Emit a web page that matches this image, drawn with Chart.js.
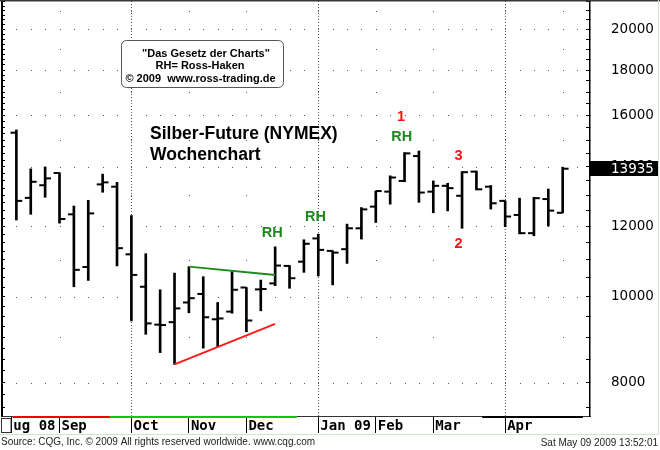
<!DOCTYPE html>
<html>
<head>
<meta charset="utf-8">
<title>Silber-Future (NYMEX) Wochenchart</title>
<script src="https://cdn.jsdelivr.net/npm/chart.js@4.4.1/dist/chart.umd.min.js"></script>
<style>
  html, body { margin: 0; padding: 0; background: #fff; }
  #chart { display: block; }
</style>
</head>
<body>
<canvas id="chart" width="660" height="450"></canvas>
<script>
// weekly OHLC bars, one per week (Monday of the week)
const weeks = [
  '2008-08-11', '2008-08-18', '2008-08-25', '2008-09-01', '2008-09-08', '2008-09-15', '2008-09-22', '2008-09-29',
  '2008-10-06', '2008-10-13', '2008-10-20', '2008-10-27', '2008-11-03', '2008-11-10', '2008-11-17', '2008-11-24',
  '2008-12-01', '2008-12-08', '2008-12-15', '2008-12-22', '2008-12-29', '2009-01-05', '2009-01-12', '2009-01-19',
  '2009-01-26', '2009-02-02', '2009-02-09', '2009-02-16', '2009-02-23', '2009-03-02', '2009-03-09', '2009-03-16',
  '2009-03-23', '2009-03-30', '2009-04-06', '2009-04-13', '2009-04-20', '2009-04-27', '2009-05-04'
];
const opens = [
  15300, 12920, 13350, 13780, 12380, 10800, 13380, 13300, 11160, 10260, 9300, 9360, 9850,
  10070, 9430, 9620, 10240, 10190, 10350, 10830, 10950, 11630, 11260, 11310, 11940, 12630,
  13130, 13500, 14400, 13130, 13330, 12990, 13830, 13300, 12820, 12360, 11790, 12880, 12430
];
const highs = [
  15410, 13930, 14000, 13790, 12650, 12840, 13740, 13450, 12340, 11180, 10180, 10630, 10810,
  10530, 9850, 10670, 10240, 10440, 11380, 10840, 11590, 11760, 11260, 12070, 12600, 13150,
  13680, 14530, 14590, 13500, 13420, 13830, 13850, 13340, 12820, 12910, 12940, 13220, 13990
];
const lows = [
  12200, 12380, 12940, 12100, 10260, 10430, 13110, 10830, 9390, 9070, 8650, 8390, 9590,
  8750, 8780, 9580, 9130, 9640, 10290, 10220, 10650, 10550, 10310, 10900, 11610, 12120,
  12710, 13470, 12770, 12430, 12490, 11940, 13190, 12550, 11990, 11770, 11710, 12010, 12430
];
const closes = [
  12820, 13470, 13590, 12230, 10720, 12410, 13450, 11340, 10580, 9330, 9290, 9700, 9960,
  9480, 9450, 10180, 9400, 10200, 10840, 10490, 11470, 11290, 11210, 11940, 12540, 13150,
  13620, 14500, 13100, 13330, 13250, 13810, 13210, 12740, 12310, 11790, 12910, 12500, 13935
];

// drawn trend lines: [bar index, price]
const resistanceLine = [[12, 10810], [18, 10580]];
const supportLine = [[11, 8390], [18, 9320]];

// chart notes
const noteText = ['RH', 'RH', 'RH', '1', '3', '2'];
const noteX = [17.8, 20.8, 26.8, 26.75, 30.75, 30.75];
const noteY = [11800, 12300, 15140, 15920, 14410, 11460];
const noteColor = ['#1e8a1e', '#1e8a1e', '#1e8a1e', '#ff1010', '#ff1010', '#ff1010'];

// trend strip under the price pane
const bandFrom = [-0.25, 6.5, 32.4];
const bandTo = [6.5, 19.5, 39.4];
const bandColor = ['#f00000', '#00cc00', '#000000'];

// axes
const yLabels = [8000, 10000, 12000, 14000, 16000, 18000, 20000];
const minorLevels = [9000, 11000, 13000, 15000, 17000, 19000, 21000];
const xTickLabels = ['ug 08', 'Sep', 'Oct', 'Nov', 'Dec', 'Jan 09', 'Feb', 'Mar', 'Apr'];
const yMin = 7338, yMax = 21528;

// first week of every new month
const monthStarts = [];
weeks.forEach((w, i) => {
  if (i > 0 && w.slice(5, 7) !== weeks[i - 1].slice(5, 7)) monthStarts.push(i);
});
const quarterStarts = monthStarts.filter(i => (+weeks[i].slice(5, 7) - 1) % 3 === 0);
const xTickPos = [-0.35].concat(monthStarts.slice(0, xTickLabels.length - 1));

const rightTicks = [];
for (let v = 7500; v <= 21500; v += 500) rightTicks.push(v);
const leftTicks = [];
for (let v = 7500; v <= 21500; v += 250) leftTicks.push(v);

const SANS = "'Liberation Sans', Arial, sans-serif";

const decor = {
  id: 'decor',
  beforeDraw(chart) {
    const ctx = chart.ctx;
    ctx.save();
    ctx.fillStyle = '#fff';
    ctx.fillRect(0, 0, chart.width, chart.height);
    ctx.restore();
  },
  beforeDatasetsDraw(chart) {
    const { ctx, chartArea: ca, scales: { x, y } } = chart;
    ctx.save();
    ctx.fillStyle = '#555';
    // dotted price grid: one dot per week on the labelled levels
    yLabels.forEach(v => {
      const py = Math.round(y.getPixelForValue(v));
      for (let i = Math.ceil(x.min); i <= x.max; i++) {
        const px = Math.round(x.getPixelForValue(i));
        if (px >= ca.left && px < ca.right) ctx.fillRect(px, py, 1, 1);
      }
    });
    // in-between levels only at month starts
    monthStarts.forEach(m => {
      const px = Math.round(x.getPixelForValue(m));
      minorLevels.forEach(v => {
        ctx.fillRect(px, Math.round(y.getPixelForValue(v)), 1, 1);
      });
    });
    ctx.restore();
  },
  afterDraw(chart) {
    const { ctx, chartArea: ca, scales: { x, y } } = chart;
    ctx.save();

    // trend strip
    bandFrom.forEach((f, i) => {
      const x1 = Math.max(x.getPixelForValue(f), 11);
      const x2 = Math.min(x.getPixelForValue(bandTo[i]), ca.right);
      ctx.fillStyle = bandColor[i];
      ctx.fillRect(x1, ca.bottom, x2 - x1, 2);
    });
    ctx.strokeStyle = '#333';
    ctx.lineWidth = 1;
    ctx.strokeRect(1.5, ca.bottom + 2.5, 9.5, 14);

    // info box
    ctx.beginPath();
    ctx.roundRect(121.5, 40.5, 162, 47, 5);
    ctx.fillStyle = '#fff';
    ctx.fill();
    ctx.strokeStyle = '#555';
    ctx.stroke();
    ctx.fillStyle = '#000';
    ctx.textAlign = 'center';
    ctx.textBaseline = 'alphabetic';
    ctx.font = "bold 11px 'Liberation Sans Narrow', " + SANS;
    ctx.fillText('"Das Gesetz der Charts"', 206, 56.5);
    ctx.fillText('RH= Ross-Haken', 200, 69);
    ctx.fillText('\u00a9 2009  www.ross-trading.de', 200.5, 81.5);

    // title
    ctx.textAlign = 'left';
    ctx.font = 'bold 17.5px ' + SANS;
    ctx.fillText('Silber-Future (NYMEX)', 150, 138.5);
    ctx.fillText('Wochenchart', 150, 160);

    // notes
    ctx.textAlign = 'center';
    ctx.textBaseline = 'middle';
    ctx.font = 'bold 14.5px ' + SANS;
    noteText.forEach((t, i) => {
      ctx.fillStyle = noteColor[i];
      ctx.fillText(t, x.getPixelForValue(noteX[i]), y.getPixelForValue(noteY[i]));
    });

    // last price box
    const last = closes[closes.length - 1];
    const py = y.getPixelForValue(last);
    ctx.fillStyle = '#000';
    ctx.fillRect(ca.right, Math.round(py) - 8, 68, 15);
    ctx.fillStyle = '#fff';
    ctx.textAlign = 'left';
    ctx.font = "13.5px 'DejaVu Sans', sans-serif";
    ctx.fillText(String(last), 611, py + 0.5);

    // frame and top edge
    ctx.fillStyle = '#3a3a3a';
    ctx.fillRect(0, 0, chart.width, 1.5);
    ctx.strokeStyle = '#cfe4cf';
    ctx.beginPath();
    ctx.moveTo(0, 434.5); ctx.lineTo(658.5, 434.5); ctx.lineTo(658.5, 0);
    ctx.stroke();

    // footer
    ctx.fillStyle = '#222';
    ctx.textBaseline = 'alphabetic';
    ctx.font = '10px ' + SANS;
    ctx.textAlign = 'left';
    ctx.fillText('Source: CQG, Inc. \u00a9 2009 All rights reserved worldwide. www.cqg.com', 1, 444.5);
    ctx.textAlign = 'right';
    ctx.fillText('Sat May 09 2009 13:52:01', 658, 446);
    ctx.restore();
  }
};

new Chart(document.getElementById('chart'), {
  type: 'bar',
  data: {
    datasets: [
      {
        type: 'line', label: 'Widerstand', data: resistanceLine.map(p => ({ x: p[0], y: p[1] })),
        borderColor: '#1e8a1e', borderWidth: 2, pointRadius: 0, fill: false, xAxisID: 'x', yAxisID: 'y'
      },
      {
        type: 'line', label: 'Unterstuetzung', data: supportLine.map(p => ({ x: p[0], y: p[1] })),
        borderColor: '#ff1a1a', borderWidth: 2, pointRadius: 0, fill: false, xAxisID: 'x', yAxisID: 'y'
      },
      {
        type: 'line', label: 'Open', data: opens.map((v, i) => ({ x: i - 0.2, y: v })),
        showLine: false, pointStyle: 'line', pointRadius: 3, pointBorderWidth: 2, pointBorderColor: '#000',
        xAxisID: 'x', yAxisID: 'y'
      },
      {
        type: 'line', label: 'Close', data: closes.map((v, i) => ({ x: i + 0.2, y: v })),
        showLine: false, pointStyle: 'line', pointRadius: 3, pointBorderWidth: 2, pointBorderColor: '#000',
        xAxisID: 'x', yAxisID: 'y'
      },
      {
        type: 'bar', label: 'High-Low', data: weeks.map((w, i) => ({ x: i, y: [lows[i], highs[i]] })),
        backgroundColor: '#000', borderWidth: 0, barThickness: 2, xAxisID: 'x', yAxisID: 'y'
      }
    ]
  },
  options: {
    responsive: false,
    animation: false,
    devicePixelRatio: 1,
    events: [],
    layout: { autoPadding: false, padding: { left: 0, right: 4, top: 1, bottom: 0 } },
    plugins: { legend: { display: false }, tooltip: { enabled: false } },
    scales: {
      x: {
        type: 'linear', min: -1, max: 39.9, bounds: 'data', offset: false,
        afterBuildTicks: s => { s.ticks = xTickPos.map(v => ({ value: v })); },
        afterFit: s => { s.height = 34; s.paddingLeft = 0; s.paddingRight = 0; },
        ticks: {
          autoSkip: false, maxRotation: 0, minRotation: 0, align: 'start', labelOffset: 2, padding: -15,
          callback: (v, i) => xTickLabels[i],
          font: { family: "'DejaVu Sans Mono', monospace", size: 14, weight: 'bold' }, color: '#000'
        },
        grid: {
          offset: false,
          color: c => (c.tick && quarterStarts.includes(c.tick.value) ? '#555' : 'rgba(0,0,0,0)'),
          tickLength: 17, tickColor: '#000', tickWidth: 1
        },
        border: { color: '#333', width: 1, dash: [1, 2] }
      },
      y: {
        type: 'logarithmic', position: 'right', min: yMin, max: yMax, bounds: 'data', beginAtZero: false,
        afterBuildTicks: s => { s.ticks = rightTicks.map(v => ({ value: v })); },
        afterFit: s => { s.width = 66; s.paddingTop = 0; s.paddingBottom = 0; },
        ticks: {
          autoSkip: false, padding: 25, crossAlign: 'near',
          callback: v => (yLabels.includes(v) ? String(v) : ''),
          font: { family: "'DejaVu Sans', sans-serif", size: 13.5 }, color: '#000'
        },
        grid: { color: 'rgba(0,0,0,0)', tickLength: -4, tickColor: '#000', tickWidth: 1 },
        border: { color: '#000', width: 1.5 }
      },
      yl: {
        type: 'logarithmic', position: 'left', min: yMin, max: yMax, bounds: 'data', beginAtZero: false,
        afterBuildTicks: s => { s.ticks = leftTicks.map(v => ({ value: v })); },
        afterFit: s => { s.width = 2; s.paddingTop = 0; s.paddingBottom = 0; },
        ticks: { display: false },
        grid: { drawOnChartArea: false, tickLength: -3, tickColor: '#000', tickWidth: 1 },
        border: { color: '#000', width: 2 }
      }
    }
  },
  plugins: [decor]
});
</script>
</body>
</html>
